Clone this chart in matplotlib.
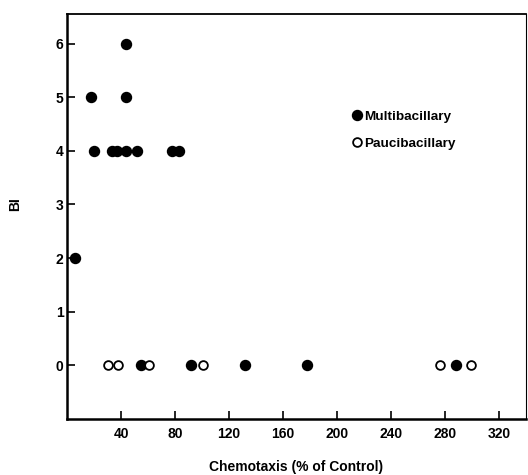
import matplotlib
matplotlib.use("Agg")
import matplotlib.pyplot as plt

plt.rcParams['font.family'] = ['Liberation Sans', 'DejaVu Sans']
plt.rcParams['font.weight'] = 'bold'

#%% data

multi_x = [44, 18, 44, 20, 33, 37, 44, 52, 78, 83, 6, 55, 92, 132, 178, 288]
multi_y = [6, 5, 5, 4, 4, 4, 4, 4, 4, 4, 2, 0, 0, 0, 0, 0]

pauci_x = [30, 38, 61, 101, 276, 299]
pauci_y = [0, 0, 0, 0, 0, 0]

x_ticks = [40, 80, 120, 160, 200, 240, 280, 320]
y_ticks = [0, 1, 2, 3, 4, 5, 6]

#%% plot

fig = plt.figure(figsize=(5.28, 4.75), dpi=100)
ax = fig.add_axes([67/528, 1 - 419/475, (526 - 67)/528, (419 - 14)/475])

ax.plot(multi_x, multi_y, "o", color="black", markersize=7.2, linestyle="none",
        label="Multibacillary", clip_on=False)
ax.plot(pauci_x, pauci_y, "o", markerfacecolor="white", markeredgecolor="black",
        markeredgewidth=1.3, markersize=6.3, linestyle="none",
        label="Paucibacillary", clip_on=False)

ax.set_xlim(0, 340)
ax.set_ylim(-1, 6.55)
ax.set_xticks(x_ticks)
ax.set_yticks(y_ticks)
ax.tick_params(direction="in", length=6, width=1.2, labelsize=10)
ax.tick_params(axis="x", pad=5.5)
ax.tick_params(axis="y", pad=2.5)
for lab in ax.get_xticklabels() + ax.get_yticklabels():
    lab.set_fontweight("bold")

ax.spines["left"].set_linewidth(1.8)
ax.spines["bottom"].set_linewidth(1.8)
ax.spines["top"].set_linewidth(1.3)
ax.spines["right"].set_linewidth(0.8)

ax.set_xlabel("Chemotaxis (% of Control)", fontsize=10, fontweight="bold", labelpad=14)
ax.set_ylabel("BI", fontsize=10, fontweight="bold")
ax.yaxis.set_label_coords(-0.097, 0.53)

leg = ax.legend(loc="upper left", bbox_to_anchor=(0.591, 0.792), frameon=False,
                handletextpad=0.05, handlelength=1.0, labelspacing=1.1,
                prop={"size": 9.7, "weight": "bold"})

plt.savefig("out.png", dpi=100)
